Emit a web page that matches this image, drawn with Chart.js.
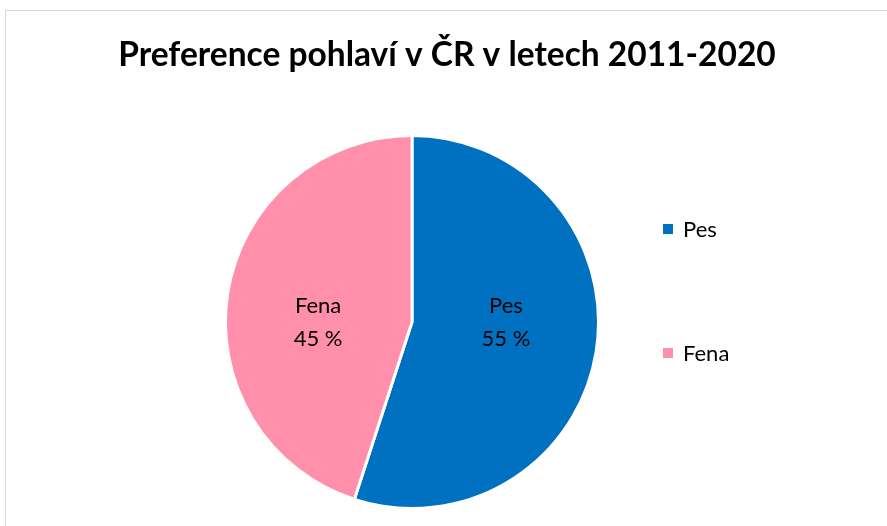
<!DOCTYPE html>
<html>
<head>
<meta charset="utf-8">
<script src="https://cdn.jsdelivr.net/npm/chart.js@4"></script>
<style>
  html, body { margin: 0; padding: 0; background: #fff; overflow: hidden; }
  #frame { position: absolute; left: 5px; top: 10px; width: 900px; height: 540px; border: 1px solid #d9d9d9; box-sizing: border-box; }
  #wrap { position: absolute; left: 0; top: 0; width: 887px; height: 526px; }
</style>
</head>
<body>
<div id="frame"></div>
<div id="wrap"><canvas id="chartPohlavi"></canvas></div>
<script>
// data
const titleText = 'Preference pohlaví v ČR v letech 2011-2020';
const categories = ['Pes', 'Fena'];
const values = [55, 45];
const colors = ['#0070C0', '#FF8FAB'];

const FONT = 'Lato, "Open Sans", sans-serif';

// titulek, popisky a legenda kreslené ručně
const customDraw = {
  id: 'customDraw',
  afterDatasetsDraw(chart) {
    const ctx = chart.ctx;
    const meta = chart.getDatasetMeta(0);
    ctx.save();

    // titulek
    ctx.fillStyle = '#000';
    ctx.font = 'bold 33.5px ' + FONT;
    ctx.textAlign = 'center';
    ctx.textBaseline = 'middle';
    ctx.fillText(titleText, 447, 55);

    // popisky v koláči
    ctx.font = '22px ' + FONT;
    const total = values.reduce((s, v) => s + v, 0);
    meta.data.forEach((arc, i) => {
      const p = arc.getProps(['x', 'y', 'startAngle', 'endAngle', 'outerRadius']);
      const mid = (p.startAngle + p.endAngle) / 2;
      const lx = p.x + Math.cos(mid) * p.outerRadius * 0.51;
      const ly = p.y;
      const pct = Math.round(values[i] / total * 100) + ' %';
      ctx.fillText(chart.data.labels[i], lx, ly - 16);
      ctx.fillText(pct, lx, ly + 17);
    });

    // legenda
    ctx.textAlign = 'left';
    const legY = [229, 353];
    categories.forEach((c, i) => {
      ctx.fillStyle = colors[i];
      ctx.fillRect(663, legY[i] - 5, 10, 10);
      ctx.fillStyle = '#000';
      ctx.fillText(c, 683, legY[i] + 1);
    });
    ctx.restore();
  }
};

new Chart(document.getElementById('chartPohlavi'), {
  type: 'pie',
  data: {
    labels: categories,
    datasets: [{
      data: values,
      backgroundColor: colors,
      borderColor: '#fff',
      borderWidth: 3
    }]
  },
  options: {
    responsive: true,
    maintainAspectRatio: false,
    animation: false,
    layout: { padding: { left: 224, right: 287, top: 134, bottom: 16 } },
    plugins: {
      legend: { display: false },
      title: { display: false },
      tooltip: { enabled: false }
    }
  },
  plugins: [customDraw]
});
</script>
</body>
</html>
